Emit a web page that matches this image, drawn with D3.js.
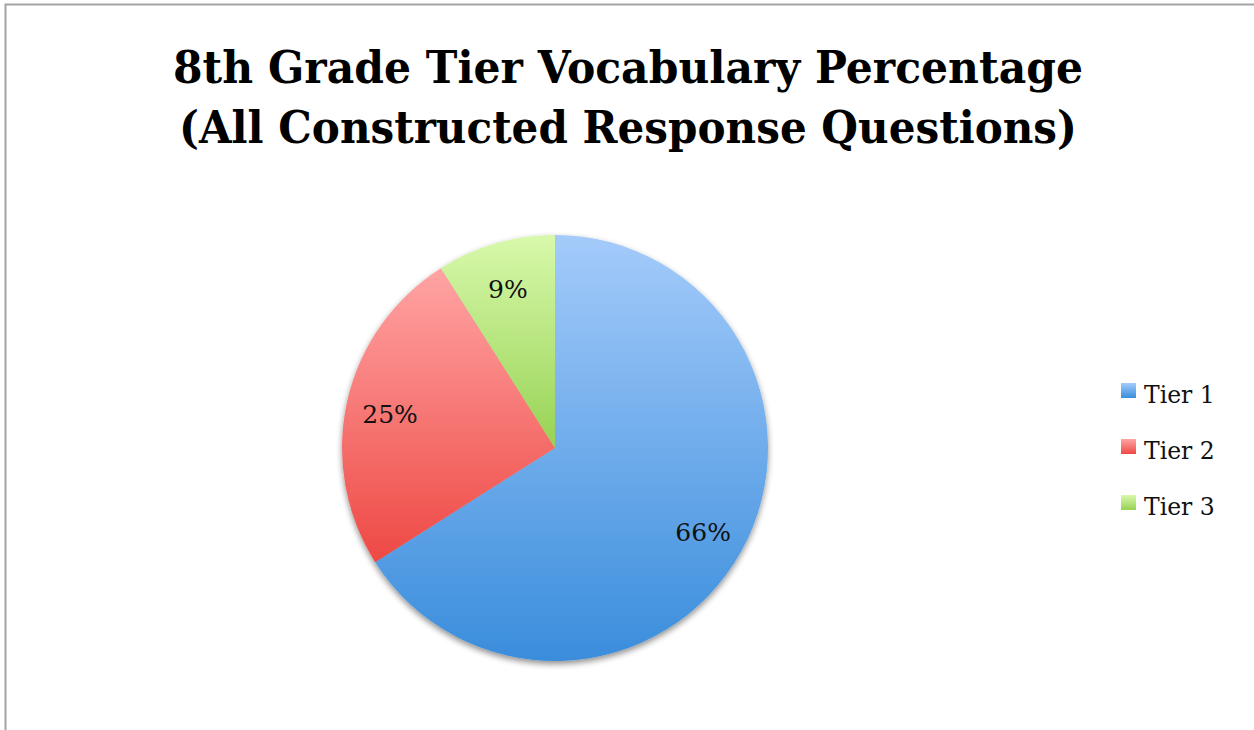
<!DOCTYPE html>
<html>
<head>
<meta charset="utf-8">
<script src="https://cdn.jsdelivr.net/npm/d3@7"></script>
<style>
  html, body { margin: 0; padding: 0; background: #fff; }
  svg { display: block; }
</style>
</head>
<body>
<svg id="chart" width="1254" height="730"></svg>
<script>
// Chart data
const categories = ["Tier 1", "Tier 2", "Tier 3"];
const values = [66, 25, 9];
const titleLines = ["8th Grade Tier Vocabulary Percentage", "(All Constructed Response Questions)"];
// Gradient stops per slice: [top colour, bottom colour]
const sliceColors = [["#a4cbfa", "#3a8ddc"], ["#ffa4a4", "#ee4944"], ["#d8f9ab", "#97d254"]];

const svg = d3.select("#chart");
const W = 1254, H = 730;

// Frame
svg.append("rect")
  .attr("x", 5.5).attr("y", 4.5)
  .attr("width", W + 10).attr("height", H + 10)
  .attr("fill", "#fff").attr("stroke", "#a3a3a3").attr("stroke-width", 2);

const defs = svg.append("defs");
sliceColors.forEach((c, i) => {
  const g = defs.append("linearGradient")
    .attr("id", "grad" + i)
    .attr("x1", 0).attr("y1", 0).attr("x2", 0).attr("y2", 1);
  g.append("stop").attr("offset", "0%").attr("stop-color", c[0]);
  g.append("stop").attr("offset", "100%").attr("stop-color", c[1]);
});
const shadow = defs.append("filter").attr("id", "shadow")
  .attr("x", "-10%").attr("y", "-10%").attr("width", "120%").attr("height", "120%");
shadow.append("feGaussianBlur").attr("in", "SourceAlpha").attr("stdDeviation", 3).attr("result", "b");
shadow.append("feOffset").attr("in", "b").attr("dx", 0).attr("dy", 3).attr("result", "o");
shadow.append("feComponentTransfer").attr("in", "o").attr("result", "s")
  .append("feFuncA").attr("type", "linear").attr("slope", 0.45);
const merge = shadow.append("feMerge");
merge.append("feMergeNode").attr("in", "s");
merge.append("feMergeNode").attr("in", "SourceGraphic");

// Title
const titleFont = "'DejaVu Serif', 'Liberation Serif', serif";
const titleBaselines = [83, 143];
const titleWidths = [910, 898];
titleLines.forEach((t, i) => {
  svg.append("text")
    .attr("x", 628).attr("y", titleBaselines[i])
    .attr("text-anchor", "middle")
    .attr("font-family", titleFont)
    .attr("font-weight", "bold")
    .attr("font-size", 45)
    .attr("textLength", titleWidths[i])
    .attr("lengthAdjust", "spacingAndGlyphs")
    .attr("fill", "#000")
    .text(t);
});

// Pie
const cx = 555, cy = 448, r = 213;
const pie = d3.pie().sort(null).value(d => d);
const arcs = pie(values);
const arc = d3.arc().innerRadius(0).outerRadius(r);
const labelArc = d3.arc().innerRadius(169).outerRadius(169);

const g = svg.append("g").attr("transform", `translate(${cx},${cy})`);
const slices = g.append("g").attr("filter", "url(#shadow)");
slices.selectAll("path")
  .data(arcs)
  .join("path")
  .attr("d", arc)
  .attr("fill", (d, i) => `url(#grad${i})`);

const labelFont = "'DejaVu Serif', 'Liberation Serif', serif";
g.selectAll("text.lbl")
  .data(arcs)
  .join("text")
  .attr("class", "lbl")
  .attr("transform", d => `translate(${labelArc.centroid(d)})`)
  .attr("text-anchor", "middle")
  .attr("dy", "0.48em")
  .attr("font-family", labelFont)
  .attr("font-size", 25)
  .attr("fill", "#111")
  .text(d => d.data + "%");

// Legend
const legend = svg.append("g").attr("transform", "translate(1121,383)");
const rowY = d3.scalePoint().domain(categories).range([0, 112]);
const rows = legend.selectAll("g")
  .data(categories)
  .join("g")
  .attr("transform", d => `translate(0,${rowY(d)})`);
rows.append("rect")
  .attr("width", 15).attr("height", 15)
  .attr("fill", (d, i) => `url(#grad${i})`);
rows.append("text")
  .attr("x", 23).attr("y", 20)
  .attr("font-family", labelFont)
  .attr("font-size", 23.5)
  .attr("fill", "#111")
  .text(d => d);
</script>
</body>
</html>
